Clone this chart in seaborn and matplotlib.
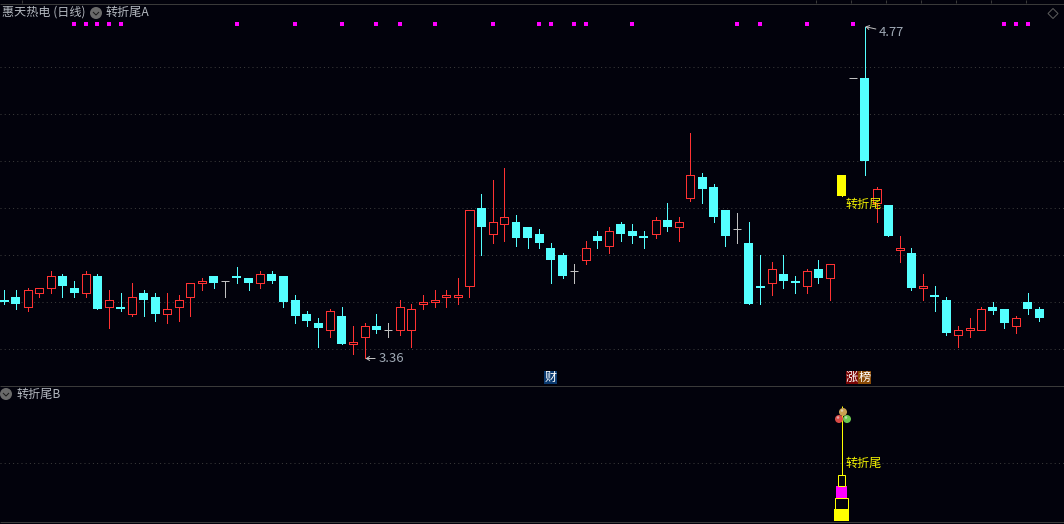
import pandas as pd
import matplotlib
matplotlib.use("Agg")
import matplotlib.pyplot as plt
import seaborn as sns
from matplotlib.patches import Circle, Polygon, Rectangle

# ================= DATA =================
OPEN = [3.61, 3.62, 3.58, 3.64, 3.66, 3.71, 3.66, 3.64, 3.71, 3.58,
        3.58, 3.55, 3.64, 3.62, 3.55, 3.58, 3.62, 3.68, 3.71, 3.69,
        3.71, 3.70, 3.68, 3.72, 3.71, 3.61, 3.55, 3.51, 3.48, 3.54,
        3.42, 3.45, 3.50, 3.48, 3.48, 3.48, 3.59, 3.60, 3.62, 3.62,
        3.67, 4.00, 3.89, 3.93, 3.94, 3.92, 3.89, 3.83, 3.80, 3.73,
        3.78, 3.88, 3.84, 3.93, 3.90, 3.88, 3.89, 3.95, 3.92, 4.04,
        4.13, 4.09, 3.99, 3.91, 3.85, 3.67, 3.68, 3.72, 3.69, 3.67,
        3.74, 3.70, 4.05, 4.55, 4.55, 4.02, 4.01, 3.82, 3.81, 3.66,
        3.63, 3.61, 3.46, 3.48, 3.48, 3.58, 3.57, 3.50, 3.60, 3.57]
HIGH = [3.65, 3.65, 3.66, 3.66, 3.73, 3.72, 3.69, 3.73, 3.72, 3.65,
        3.64, 3.68, 3.65, 3.64, 3.64, 3.63, 3.68, 3.70, 3.71, 3.69,
        3.75, 3.70, 3.73, 3.73, 3.71, 3.63, 3.56, 3.53, 3.57, 3.58,
        3.50, 3.51, 3.55, 3.51, 3.61, 3.59, 3.63, 3.65, 3.65, 3.70,
        3.99, 4.06, 4.12, 4.17, 3.97, 3.92, 3.91, 3.85, 3.81, 3.76,
        3.86, 3.90, 3.92, 3.94, 3.93, 3.90, 3.96, 4.02, 3.96, 4.32,
        4.15, 4.10, 3.99, 3.98, 3.94, 3.80, 3.77, 3.80, 3.71, 3.74,
        3.78, 3.76, 4.14, 4.55, 4.77, 4.09, 4.01, 3.88, 3.83, 3.72,
        3.67, 3.62, 3.50, 3.53, 3.58, 3.60, 3.57, 3.54, 3.64, 3.58]
LOW = [3.59, 3.57, 3.56, 3.62, 3.64, 3.62, 3.62, 3.62, 3.57, 3.49,
       3.56, 3.54, 3.54, 3.52, 3.51, 3.52, 3.54, 3.65, 3.66, 3.62,
       3.68, 3.65, 3.66, 3.68, 3.58, 3.51, 3.50, 3.41, 3.45, 3.42,
       3.38, 3.36, 3.47, 3.45, 3.46, 3.41, 3.57, 3.58, 3.58, 3.59,
       3.62, 3.80, 3.85, 3.86, 3.84, 3.83, 3.83, 3.68, 3.70, 3.68,
       3.76, 3.83, 3.81, 3.86, 3.85, 3.83, 3.87, 3.90, 3.86, 4.03,
       4.02, 3.94, 3.84, 3.85, 3.59, 3.59, 3.63, 3.66, 3.64, 3.64,
       3.68, 3.61, 4.05, 4.55, 4.14, 3.94, 3.88, 3.77, 3.65, 3.61,
       3.56, 3.46, 3.41, 3.45, 3.48, 3.55, 3.49, 3.47, 3.55, 3.52]
CLOSE = [3.60, 3.59, 3.65, 3.66, 3.71, 3.67, 3.64, 3.72, 3.57, 3.61,
         3.57, 3.62, 3.61, 3.55, 3.57, 3.61, 3.68, 3.69, 3.68, 3.69,
         3.70, 3.68, 3.72, 3.69, 3.60, 3.54, 3.52, 3.49, 3.56, 3.42,
         3.43, 3.50, 3.48, 3.48, 3.58, 3.57, 3.60, 3.61, 3.63, 3.63,
         3.99, 3.92, 3.94, 3.96, 3.87, 3.87, 3.85, 3.78, 3.71, 3.73,
         3.83, 3.86, 3.90, 3.89, 3.88, 3.87, 3.95, 3.92, 3.94, 4.14,
         4.08, 3.96, 3.88, 3.91, 3.59, 3.66, 3.74, 3.69, 3.68, 3.73,
         3.70, 3.76, 4.14, 4.55, 4.20, 4.08, 3.88, 3.83, 3.66, 3.67,
         3.62, 3.47, 3.48, 3.49, 3.57, 3.56, 3.51, 3.53, 3.57, 3.53]

SIGNAL_DAYS = [6, 7, 8, 9, 10, 20, 25, 29, 32, 34, 37, 42, 46, 47, 49, 50,
               54, 63, 65, 69, 73, 86, 87, 88]
SIGNAL_LEVEL = 4.78
YELLOW_DAY = 72
GRID_PRICES = [3.40, 3.60, 3.80, 4.00, 4.20, 4.40, 4.60]

TOWER_BOTTOM = [0, 1, 2, 3]
TOWER_TOP = [1, 2, 3, 4]
TOWER_STEM_TOP = 9.9
LOWER_GRID = 5

TOP_TICKS = [22, 816, 851, 886, 921, 956, 991, 1026]

# ================= STYLE =================
BG = "#02020c"
CYAN = "#54ffff"
RED = "#ff3232"
GREY = "#c0c0c0"
YELLOW = "#ffff00"
MAGENTA = "#ff00ff"
LINE = "#3a3a3a"
DOTS = "#3c3c3c"
LABEL = "#b4b9c0"
PX = 0.72  # one pixel in points at dpi 100
DOTTED = [(0, (1, 3.2))]

sns.set_theme(style="dark", rc={"axes.facecolor": BG, "figure.facecolor": BG,
                                "lines.solid_capstyle": "butt"})
plt.rcParams["font.family"] = ["Noto Sans CJK SC", "DejaVu Sans"]

df = pd.DataFrame({"open": OPEN, "high": HIGH, "low": LOW, "close": CLOSE})
df["day"] = df.index
df["kind"] = "flat"
df.loc[df["close"] > df["open"], "kind"] = "up"
df.loc[df["close"] < df["open"], "kind"] = "down"
df.loc[YELLOW_DAY, "kind"] = "mark"

wicks = pd.concat([
    df[["day", "kind", "high"]].rename(columns={"high": "price"}),
    df[["day", "kind", "low"]].rename(columns={"low": "price"}),
])

fig = plt.figure(figsize=(10.64, 5.24), dpi=100)
W, H = 1064.0, 524.0
xlim = (-0.37, 91.12)

# price pane, pixel rows 3..385
ax = fig.add_axes([0, (H - 385) / H, 1, 382 / H])
ax.set_xlim(xlim)
ax.set_ylim(3.2474, 4.8702)
ax.axis("off")
ax.hlines(GRID_PRICES, *xlim, color=DOTS, lw=PX, linestyles=DOTTED, zorder=1)

sns.lineplot(data=wicks, x="day", y="price", hue="kind", units="day", estimator=None,
             palette={"up": RED, "down": CYAN, "flat": GREY, "mark": YELLOW},
             legend=False, linewidth=PX, antialiased=False, ax=ax, zorder=2)

down = df[df["kind"] == "down"]
ax.bar(down["day"], down["open"] - down["close"], bottom=down["close"], width=0.77,
       color=CYAN, linewidth=0, zorder=3)
up = df[df["kind"] == "up"]
ax.bar(up["day"], up["close"] - up["open"], bottom=up["open"], width=0.69,
       facecolor=BG, edgecolor=RED, linewidth=PX, antialiased=False, zorder=3)
mark = df[df["kind"] == "mark"]
ax.bar(mark["day"], mark["close"] - mark["open"], bottom=mark["open"], width=0.77,
       color=YELLOW, linewidth=0, zorder=3)
flat = df[df["kind"] == "flat"]
ax.hlines(flat["close"], flat["day"] - 0.35, flat["day"] + 0.35, color=GREY, lw=PX, zorder=3)

sns.scatterplot(x=SIGNAL_DAYS, y=[SIGNAL_LEVEL] * len(SIGNAL_DAYS), marker="s", s=5,
                color=MAGENTA, linewidth=0, ax=ax, zorder=3)

low_day = df["low"].idxmin()
high_day = df["high"].idxmax()
arrow = dict(arrowstyle="->,head_width=0.15,head_length=0.25", color=GREY, lw=PX,
             shrinkA=0, shrinkB=0)
ax.annotate(f"{df['low'].min():.2f}", xy=(low_day + 0.05, df["low"].min()), xytext=(13, 0),
            textcoords="offset pixels", color="#9fa9b5", fontsize=9.4, va="center",
            arrowprops=arrow, zorder=5)
ax.annotate(f"{df['high'].max():.2f}", xy=(high_day + 0.02, df["high"].max()), xytext=(14, -6),
            textcoords="offset pixels", color="#9fa9b5", fontsize=9.4, va="center",
            arrowprops=arrow, zorder=5)

# indicator pane, pixel rows 385..524
ax2 = fig.add_axes([0, 0, 1, 139 / H])
ax2.set_xlim(xlim)
ax2.set_ylim(-0.26, 11.72)
ax2.axis("off")
ax2.hlines(LOWER_GRID, *xlim, color=DOTS, lw=PX, linestyles=DOTTED, zorder=1)
ax2.vlines(YELLOW_DAY, TOWER_TOP[-1], TOWER_STEM_TOP, color=YELLOW, lw=PX, zorder=2)
ax2.bar(YELLOW_DAY, TOWER_TOP[0] - TOWER_BOTTOM[0], bottom=TOWER_BOTTOM[0], width=1.29,
        color=YELLOW, linewidth=0, zorder=3)
ax2.bar(YELLOW_DAY, TOWER_TOP[1] - TOWER_BOTTOM[1], bottom=TOWER_BOTTOM[1], width=1.1,
        facecolor=BG, edgecolor=YELLOW, linewidth=PX, zorder=3)
ax2.bar(YELLOW_DAY, TOWER_TOP[2] - TOWER_BOTTOM[2], bottom=TOWER_BOTTOM[2], width=0.95,
        color=MAGENTA, linewidth=0, zorder=3)
ax2.bar(YELLOW_DAY, TOWER_TOP[3] - TOWER_BOTTOM[3], bottom=TOWER_BOTTOM[3], width=0.56,
        facecolor=BG, edgecolor=YELLOW, linewidth=PX, zorder=3)

# labels and chrome, in pixel coordinates
ov = fig.add_axes([0, 0, 1, 1], facecolor="none")
ov.set_xlim(0, W)
ov.set_ylim(H, 0)
ov.axis("off")

ov.hlines([3.5, 385.5, 521.5], 0, W, color=LINE, lw=PX)
ov.vlines(TOP_TICKS, 0, 3, color=LINE, lw=PX)

TXT = dict(fontsize=8.7, va="center", ha="left")
ov.text(2, 12.5, "惠天热电 (日线)", color=LABEL, **TXT)
ov.text(106, 12.5, "转折尾A", color=LABEL, **TXT)
ov.text(17, 394, "转折尾B", color=LABEL, **TXT)
ov.text(846, 204.5, "转折尾", color="#f2f200", zorder=6, **TXT)
ov.text(846, 463, "转折尾", color="#f2f200", zorder=6, **TXT)

for cx, cy in [(96, 13), (6, 394)]:
    ov.add_patch(Circle((cx, cy), 6, color="#6a6a6a", lw=0))
    ov.plot([cx - 3, cx, cx + 3], [cy - 1, cy + 2, cy - 1], color="#1a1a1a", lw=PX)

ov.add_patch(Polygon([(1053, 8.5), (1058, 13.5), (1053, 18.5), (1048, 13.5)], closed=True,
                     fill=False, edgecolor="#5c5c5c", lw=PX))

for x0, x1, face, ch in [(544, 556.5, "#0b3a70", "财"), (846, 858, "#7a0505", "涨"),
                         (858, 871, "#8a4a05", "榜")]:
    ov.add_patch(Rectangle((x0, 371), x1 - x0, 13, color=face, lw=0))
    ov.text((x0 + x1) / 2, 377.5, ch, color="white", fontsize=8.7, ha="center", va="center")

for cx, cy, face in [(843, 412, "#c9a050"), (839, 419, "#d84a45"), (847, 419, "#6cc850")]:
    ov.add_patch(Circle((cx, cy), 4, color=face, lw=0, zorder=4))
    ov.add_patch(Circle((cx - 1, cy - 1.5), 1.3, color="#e8e8e8", alpha=0.6, lw=0, zorder=5))

fig.savefig("out.png", dpi=100, facecolor=BG)
